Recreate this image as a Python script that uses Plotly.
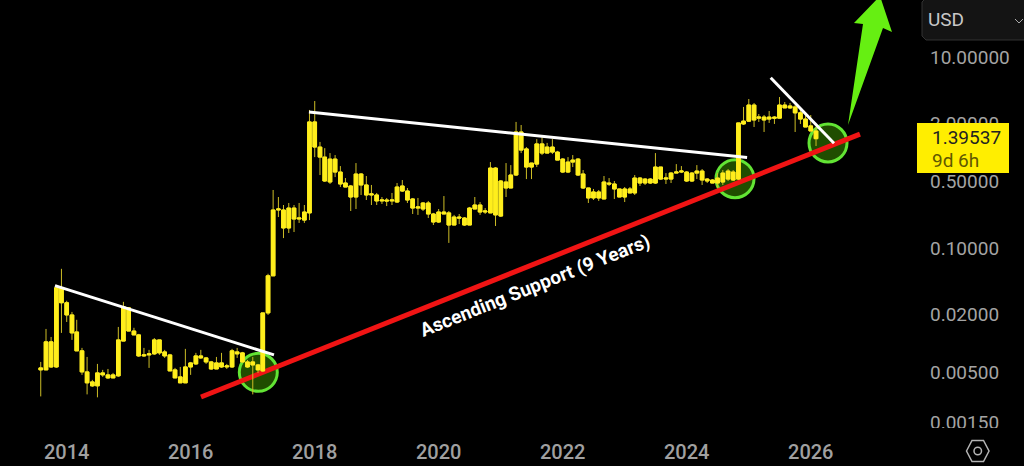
import pandas as pd
import plotly.graph_objects as go

# Monthly candles, Aug 2013 to Feb 2026 (USD, log scale)
months = pd.date_range("2013-08-01", periods=151, freq="MS")

opens = [.00529,.00529,.0104,.00568,.0383,.0267,.0199,.0132,.00837,.00504,.00396,.0036,.00492,.00469,.00436,.00458,.0106,.0236,.0135,.0123,
 .00741,.00759,.00778,.0109,.00816,.00759,.00529,.00447,.00387,.00568,.00611,.00741,.00706,.00641,.00541,.00626,.00568,.00568,.00816,.00797,
 .00641,.00596,.00596,.00516,.0209,.0511,.25,.25,.162,.262,.201,.196,.233,2.09,1.14,.895,.491,.853,.624,.479,
 .446,.342,.595,.457,.359,.359,.311,.318,.311,.303,.446,.395,.326,.262,.256,.296,.227,.187,.238,.233,
 .174,.211,.206,.174,.256,.282,.238,.233,.687,.216,.491,.425,.581,1.64,1.09,.704,.756,1.23,.986,1.14,
 1.01,.853,.624,.794,.853,.595,.425,.334,.386,.326,.479,.468,.415,.342,.415,.377,.54,.479,.527,.479,
 .704,.527,.527,.609,.624,.624,.503,.609,.639,.527,.515,.479,.491,.527,.624,.527,1.99,2.13,3.14,2.29,
 2.35,2.24,2.35,2.29,3.14,2.93,3.0,2.6,2.24,1.9,1.68]
highs = [.00641,.0142,.0117,.0411,.0605,.028,.0214,.0177,.00899,.00723,.00416,.00611,.00529,.00541,.00492,.0149,.0273,.0236,.0146,.0126,
 .00899,.00857,.0114,.0109,.00857,.00778,.00555,.00568,.00878,.00641,.00797,.00857,.00723,.00657,.00723,.00797,.00611,.00878,.00899,.00816,
 .00673,.00723,.00611,.0209,.0537,.405,.342,.282,.296,.282,.296,.282,2.79,3.46,1.29,1.11,.986,.94,.721,.54,
 .457,.775,.609,.567,.457,.377,.342,.334,.377,.479,.515,.425,.334,.334,.303,.311,.233,.256,.35,.244,
 .222,.227,.211,.269,.342,.303,.262,.794,.704,.515,.775,.738,2.09,1.94,1.14,.775,1.38,1.45,1.26,1.38,
 1.04,.874,.895,.94,.874,.655,.425,.415,.405,.567,.54,.503,.415,.435,.435,.581,.553,.54,.54,.986,
 .704,.609,.624,.756,.721,.639,.624,.738,.671,.54,.527,.609,.655,.671,.655,2.04,3.0,3.63,3.3,2.53,
 2.47,2.72,2.41,3.81,3.38,3.3,3.14,2.93,2.47,2.47,1.85]
lows = [.00279,.00529,.00555,.00555,.0129,.0168,.0109,.00837,.00469,.00293,.00351,.00273,.00447,.00426,.00436,.00447,.0106,.0135,.0123,.00723,
 .00723,.00555,.00759,.00759,.00706,.00516,.00436,.00387,.00387,.00469,.00596,.00689,.00611,.00529,.00541,.00555,.00541,.00555,.00706,.00626,
 .00555,.00293,.00492,.00504,.0199,.0511,.211,.127,.1435,.147,.183,.183,.196,.895,.581,.491,.468,.553,.435,.435,
 .244,.256,.359,.318,.282,.282,.289,.275,.282,.296,.386,.296,.227,.222,.244,.206,.174,.183,.227,.113,
 .174,.178,.17,.174,.256,.222,.227,.233,.17,.211,.342,.425,.567,.986,.527,.527,.704,.94,.986,.963,
 .833,.609,.609,.704,.567,.415,.296,.318,.311,.326,.446,.326,.342,.303,.377,.359,.446,.457,.468,.468,
 .515,.468,.479,.609,.609,.491,.491,.527,.457,.479,.479,.425,.457,.503,.503,.515,1.94,2.09,1.85,2.09,
 1.64,2.04,1.99,2.29,2.93,2.86,1.64,1.99,1.85,1.68,1.17]
closes = [.00555,.0104,.00568,.0383,.0267,.0199,.0129,.00837,.00504,.00387,.0036,.00492,.00469,.00436,.00469,.0109,.0242,.0135,.0123,.00741,
 .00759,.00778,.0109,.00797,.00741,.00516,.00436,.00387,.00568,.00626,.00741,.00706,.00641,.00541,.00626,.00568,.00582,.00837,.00778,.00641,
 .00568,.00641,.00529,.0209,.0511,.25,.256,.162,.262,.201,.206,.238,2.09,1.14,.895,.503,.853,.624,.468,.435,
 .342,.595,.457,.359,.368,.311,.318,.311,.318,.435,.395,.318,.262,.269,.296,.227,.187,.238,.227,.174,
 .211,.206,.174,.262,.282,.238,.244,.687,.222,.503,.425,.581,1.64,1.06,.704,.775,1.23,.986,1.14,1.01,
 .833,.624,.794,.833,.581,.425,.334,.386,.334,.491,.468,.415,.342,.415,.377,.54,.479,.527,.479,.704,
 .527,.54,.609,.624,.639,.503,.609,.639,.515,.503,.479,.54,.609,.639,.515,2.04,2.13,3.14,2.19,2.35,
 2.19,2.35,2.29,3.14,2.93,3.07,2.6,2.24,1.85,1.68,1.395]

# Drawn trend lines: (date, price) end points
resist_1_x, resist_1_y = ["2013-10-24", "2017-05-06"], [.0403, .00759]
resist_2_x, resist_2_y = ["2017-11-28", "2024-12-22"], [2.65, .886]
resist_3_x, resist_3_y = ["2025-05-10", "2026-05-18"], [6.07, 1.248]
support_x, support_y = ["2016-03-02", "2026-10-18"], [.00275, 1.56]

year_ticks = ["2014", "2016", "2018", "2020", "2022", "2024", "2026"]
price_ticks = [10, 2, .5, .1, .02, .005, .0015]
price_labels = ["10.00000", "2.00000", "0.50000", "0.10000", "0.02000", "0.00500", "0.00150"]

W, H = 1024, 466
PW, PH = 925, 430
def px(x): return x / PW
def py(y): return 1 - y / PH
def path(pts, close=True):
    return "M" + " L".join(f"{px(a):.5f},{py(b):.5f}" for a, b in pts) + (" Z" if close else "")

body_tops = [max(o, c) for o, c in zip(opens, closes)]
body_bots = [min(o, c) for o, c in zip(opens, closes)]

def style(color):
    return dict(line=dict(color=color, width=1), fillcolor="#ffee1c")

fig = go.Figure()
# Thin dim wicks, then crisp bodies on top
fig.add_trace(go.Candlestick(x=months, open=opens, high=highs, low=lows, close=closes,
                             increasing=style("#cdbd26"), decreasing=style("#cdbd26"),
                             whiskerwidth=0, showlegend=False))
fig.add_trace(go.Candlestick(x=months, open=opens, high=body_tops, low=body_bots, close=closes,
                             increasing=style("#ffee1c"), decreasing=style("#ffee1c"),
                             whiskerwidth=0, showlegend=False))
for xs, ys in [(resist_1_x, resist_1_y), (resist_2_x, resist_2_y), (resist_3_x, resist_3_y)]:
    fig.add_trace(go.Scatter(x=xs, y=ys, mode="lines", line=dict(color="#ffffff", width=3), showlegend=False))

shapes = [dict(type="line", xref="x", yref="y", x0=support_x[0], x1=support_x[1], y0=support_y[0], y1=support_y[1],
               line=dict(color="#f01414", width=5), layer="below")]
# Green touch circles (screen position, radius in pixels)
for cx, cy in [(258.3, 372.3), (735, 178.7), (828, 143)]:
    shapes.append(dict(type="circle", xref="paper", yref="paper", x0=px(cx - 19), x1=px(cx + 19),
                       y0=py(cy + 19), y1=py(cy - 19),
                       fillcolor="rgba(70,170,0,0.45)", line=dict(color="#62e434", width=3), layer="below"))
# Green arrow
shapes.append(dict(type="path", xref="paper", yref="paper", layer="above", fillcolor="#66ef12", line=dict(width=0),
                   path=path([(848, 125), (863, 24), (854, 23), (880, -4), (892, 32), (883, 28)])))
# Currency box, clip mask, price badge
shapes.append(dict(type="path", xref="paper", yref="paper", layer="above", fillcolor="#141414",
                   line=dict(color="#333333", width=1),
                   path=path([(926, -2), (1030, -2), (1030, 40), (926, 40), (922, 36), (922, 2)])))
shapes.append(dict(type="rect", xref="paper", yref="paper", layer="above", fillcolor="#000000", line=dict(width=0),
                   x0=px(926), x1=px(1024), y0=py(428), y1=py(466)))
shapes.append(dict(type="path", xref="paper", yref="paper", layer="above", fillcolor="#ffee00", line=dict(color="#ffee00", width=2),
                   path=path([(918, 124), (1008, 124), (1008, 172), (918, 172)])))
shapes.append(dict(type="path", xref="paper", yref="paper", layer="above", line=dict(color="#aaaaaa", width=1),
                   path=path([(1015, 19), (1019, 23), (1023, 19)], close=False)))
# Settings icon
shapes.append(dict(type="path", xref="paper", yref="paper", layer="above", line=dict(color="#b4b4b4", width=1.5),
                   path=path([(966.5, 451), (972, 440.5), (983.5, 440.5), (989, 451), (983.5, 461.5), (972, 461.5)])))
shapes.append(dict(type="circle", xref="paper", yref="paper", layer="above", line=dict(color="#b4b4b4", width=1.5),
                   x0=px(974), x1=px(981.5), y0=py(454.8), y1=py(447.2)))

ann = [
    dict(text="Ascending Support (9 Years)", x=px(535), y=py(285), textangle=-21.7,
         font=dict(family="Roboto", size=19, color="#ffffff", weight=700)),
    dict(text="USD", x=px(946), y=py(19), font=dict(family="Roboto", size=19, color="#c8c8c8")),
    dict(text="1.39537", x=px(930), y=py(137), xanchor="left", font=dict(family="Roboto", size=19, color="#222222")),
    dict(text="9d 6h", x=px(930), y=py(160), xanchor="left", font=dict(family="Roboto", size=19, color="#5f5800")),
]
for a in ann:
    a.update(xref="paper", yref="paper", showarrow=False)
    a.setdefault("xanchor", "center")
    a["yanchor"] = "middle"

fig.update_layout(
    width=W, height=H, autosize=False,
    margin=dict(l=0, r=W - PW, t=0, b=H - PH),
    paper_bgcolor="#000000", plot_bgcolor="#000000",
    boxmode="overlay", boxgap=0.1, boxgroupgap=0.15, showlegend=False,
    shapes=shapes, annotations=ann,
    xaxis=dict(type="date", range=["2012-12-04", "2027-11-05"], rangeslider=dict(visible=False),
               showgrid=False, zeroline=False, showline=False,
               tickmode="array", tickvals=[f"{y}-01-01" for y in year_ticks], ticktext=year_ticks,
               ticks="outside", ticklen=4, tickcolor="#000000",
               tickfont=dict(family="Roboto", size=20, color="#a0a0a0", weight=500)),
    yaxis=dict(type="log", side="right", range=[-2.906, 1.597], showgrid=False, zeroline=False, showline=False,
               tickmode="array", tickvals=price_ticks, ticktext=price_labels,
               ticks="", ticklabelstandoff=4,
               tickfont=dict(family="Roboto", size=19, color="#a4a4a4")),
)
fig.write_html("out.html", config=dict(displayModeBar=False), post_script="document.body.style.margin='0';document.body.style.overflow='hidden';")
